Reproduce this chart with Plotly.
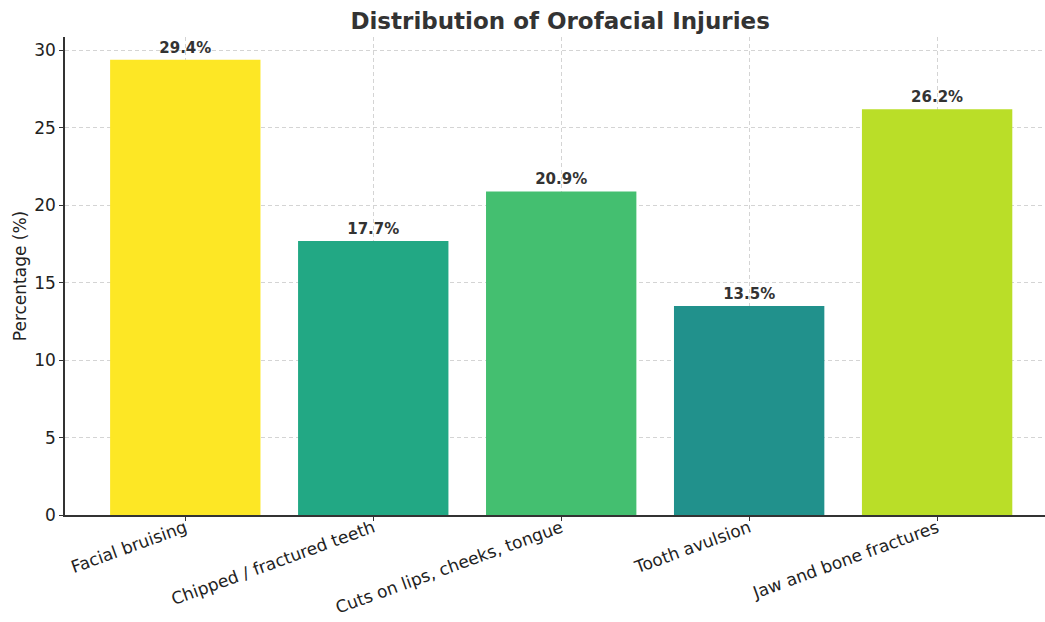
import plotly.graph_objects as go

categories = ["Facial bruising", "Chipped / fractured teeth", "Cuts on lips, cheeks, tongue",
              "Tooth avulsion", "Jaw and bone fractures"]
values = [29.4, 17.7, 20.9, 13.5, 26.2]
colors = ["#fde725", "#22a884", "#44bf70", "#21918c", "#bade28"]
labels = [f"<b>{v:.1f}%</b>" for v in values]
yticks = [0, 5, 10, 15, 20, 25, 30]

font = "DejaVu Sans, sans-serif"
dark = "#333333"

fig = go.Figure(go.Bar(
    x=list(range(len(categories))), y=values, marker_color=colors, width=0.8,
    marker_line_width=0,
    text=labels, textposition="outside", cliponaxis=False,
    textfont=dict(family=font, size=15, color=dark),
))

fig.update_layout(
    width=1045, height=622,
    margin=dict(l=65, r=0, t=37, b=107),
    plot_bgcolor="white", paper_bgcolor="white",
    font=dict(family=font, color=dark),
    title=dict(text="<b>Distribution of Orofacial Injuries</b>", x=0.536, xanchor="center",
               y=0.966, yanchor="middle", font=dict(size=23, color=dark, family=font)),
    showlegend=False,
    bargap=0.2,
)
fig.update_xaxes(
    range=[-0.64, 4.574], tickvals=list(range(len(categories))), ticktext=categories,
    tickangle=-20, tickfont=dict(size=17, color="#222"), automargin=False,
    ticklabelstandoff=-9,
    showline=True, linecolor=dark, linewidth=1.5, ticks="outside", ticklen=4, tickcolor=dark,
    showgrid=True, gridcolor="#d4d4d4", griddash="4px,3px", gridwidth=1, zeroline=False,
)
fig.update_yaxes(
    range=[0, 30.87], tickvals=yticks, tickfont=dict(size=17, color="#222"), automargin=False,
    title=dict(text="Percentage (%)", font=dict(size=17, color="#222"), standoff=3),
    showline=True, linecolor=dark, linewidth=1.5, ticks="outside", ticklen=4, tickcolor=dark,
    showgrid=True, gridcolor="#d4d4d4", griddash="4px,3px", gridwidth=1, zeroline=False,
)

fig.write_html("out.html")
